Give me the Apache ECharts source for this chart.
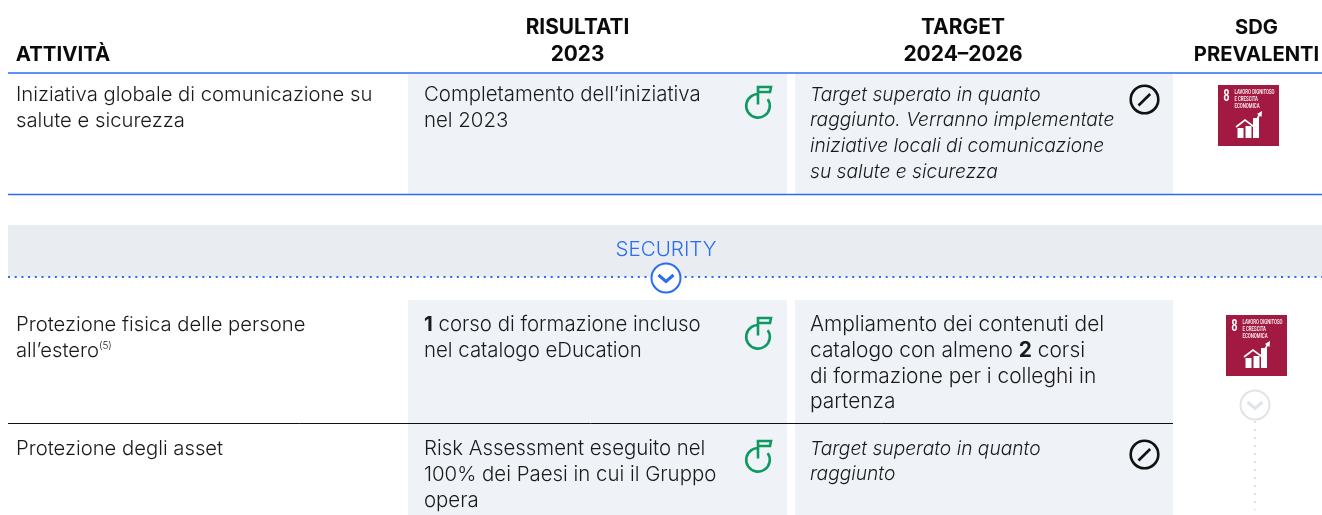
<!DOCTYPE html>
<html>
<head>
<meta charset="utf-8">
<style>
  html, body { margin: 0; padding: 0; background: #fff; }
  #chart { width: 1322px; height: 515px; }
</style>
<script src="https://cdn.jsdelivr.net/npm/echarts@6/dist/echarts.min.js"></script>
</head>
<body>
<div id="chart"></div>
<script>
var headers = [['ATTIVITÀ'], ['RISULTATI', '2023'], ['TARGET', '2024–2026'], ['SDG', 'PREVALENTI']];
var sectionTitle = 'SECURITY';
var activities = [
  ['Iniziativa globale di comunicazione su', 'salute e sicurezza'],
  ['Protezione fisica delle persone', 'all’estero{sup|(5)}'],
  ['Protezione degli asset']
];
var results = [
  ['Completamento dell’iniziativa', 'nel 2023'],
  ['{b|1} corso di formazione incluso', 'nel catalogo eDucation'],
  ['Risk Assessment eseguito nel', '100% dei Paesi in cui il Gruppo', 'opera']
];
var targets = [
  ['Target superato in quanto', 'raggiunto. Verranno implementate', 'iniziative locali di comunicazione', 'su salute e sicurezza'],
  ['Ampliamento dei contenuti del', 'catalogo con almeno {b|2} corsi', 'di formazione per i colleghi in', 'partenza'],
  ['Target superato in quanto', 'raggiunto']
];
var targetItalic = [true, false, true];
var targetStopIcon = [true, false, true];
var sdgNumber = '8';
var sdgLabel = ['LAVORO DIGNITOSO', 'E CRESCITA', 'ECONOMICA'];

var FONT = 'Inter';
var INK = '#1a1a1a';
var BLUE = '#2a6df4';
var CELL = '#eff2f7';
var BAND = '#e9edf1';
var GREEN = '#0f9960';
var FADED = '#dfe4e8';
var LINE_H = 25.7;
var BODY_SIZE = 20.4;
var TARGET_SIZE = 20.9;
var ITALIC_SIZE = 19.2;

var myChart = echarts.init(document.getElementById('chart'), null, { renderer: 'canvas' });
var els = [];

function rect(x, y, w, h, fill) {
  els.push({ type: 'rect', shape: { x: x, y: y, width: w, height: h }, style: { fill: fill }, silent: true });
}
function hline(x1, x2, y, color, width, dash) {
  els.push({
    type: 'line', shape: { x1: x1, y1: y, x2: x2, y2: y },
    style: { stroke: color, lineWidth: width, lineDash: dash || null }, silent: true
  });
}
function label(text, x, y, opt) {
  opt = opt || {};
  var size = opt.size || BODY_SIZE;
  els.push({
    type: 'text', x: x, y: y, scaleX: opt.scaleX || 1, silent: true,
    style: {
      text: text,
      fill: opt.color || INK,
      fontFamily: opt.family || FONT,
      fontSize: size,
      fontWeight: opt.weight || 300,
      fontStyle: opt.italic ? 'italic' : 'normal',
      align: opt.align || 'left',
      verticalAlign: 'middle',
      rich: {
        b: { fontFamily: FONT, fontSize: size, fontWeight: 700, color: INK },
        sup: { fontFamily: FONT, fontSize: 10, fontWeight: 300, verticalAlign: 'top', padding: [0, 0, 8, 0], color: INK }
      }
    }
  });
}
function block(lines, x, y, opt) {
  lines.forEach(function (t, i) { label(t, x, y + i * LINE_H, opt); });
}

function flagIcon(dy) {
  var st = { fill: 'none', stroke: GREEN, lineWidth: 2.6 };
  els.push({ type: 'arc', shape: { cx: 758, cy: 105.8 + dy, r: 11.8, startAngle: -0.6, endAngle: -1.6, clockwise: true }, style: st, silent: true });
  els.push({
    type: 'polyline',
    shape: { points: [[758, 104.5 + dy], [758, 87 + dy], [771, 87 + dy], [770, 92 + dy], [758, 92 + dy]] },
    style: st, silent: true
  });
}
function stopIcon(dy) {
  var st = { fill: 'none', stroke: '#111', lineWidth: 2.6 };
  els.push({ type: 'circle', shape: { cx: 1144.5, cy: 99.5 + dy, r: 13.8 }, style: st, silent: true });
  els.push({ type: 'line', shape: { x1: 1138.5, y1: 105.5 + dy, x2: 1150.2, y2: 94 + dy }, style: st, silent: true });
}
function chevronCircle(cx, cy, color, r) {
  els.push({ type: 'circle', shape: { cx: cx, cy: cy, r: r }, style: { fill: '#fff', stroke: color, lineWidth: 2 }, silent: true });
  els.push({
    type: 'polyline',
    shape: { points: [[cx - 7.5, cy - 3], [cx, cy + 3.5], [cx + 7.5, cy - 3]] },
    style: { fill: 'none', stroke: color, lineWidth: 3 }, silent: true
  });
}
function sdgIcon(x, y) {
  rect(x, y, 61, 61, '#a21942');
  label(sdgNumber, x + 5.5, y + 11.5, { size: 17, weight: 700, color: '#fff', family: 'Liberation Sans', scaleX: 0.62 });
  sdgLabel.forEach(function (t, i) {
    label(t, x + 16.5, y + 6.8 + i * 7.2, { size: 7, weight: 500, color: '#fff', family: 'Roboto', scaleX: 0.62 });
  });
  [[19.5, 43, 6, 10], [27.5, 41, 6, 12], [35, 33, 6, 20]].forEach(function (b) {
    rect(x + b[0], y + b[1], b[2], b[3], '#fff');
  });
  els.push({
    type: 'polyline',
    shape: { points: [[x + 18, y + 42], [x + 27, y + 35], [x + 35, y + 41], [x + 42, y + 29]] },
    style: { fill: 'none', stroke: '#fff', lineWidth: 1.6 }, silent: true
  });
  els.push({
    type: 'polygon',
    shape: { points: [[x + 44, y + 26], [x + 43.5, y + 32], [x + 39, y + 29]] },
    style: { fill: '#fff' }, silent: true
  });
}

// fondi celle
rect(408, 74, 379, 120, CELL);
rect(795, 74, 378, 120, CELL);
rect(408, 300, 379, 215, CELL);
rect(795, 300, 378, 215, CELL);
rect(8, 225, 1314, 52, BAND);

// linee
hline(8, 1322, 73, BLUE, 1.5);
hline(8, 1322, 194.5, BLUE, 1.3);
hline(8, 1173, 423.5, '#111', 1);
hline(8, 1322, 277, BLUE, 2, [2, 4.7]);

// intestazioni
var headAt = [63, 577.5, 963, 1256.5];
var headSize = [20.4, 20.8, 21, 20.2];
headers.forEach(function (h, c) {
  h.forEach(function (t, i) {
    var y = 55 - (h.length - 1 - i) * 27;
    label(t, headAt[c], y, { size: headSize[c], weight: 700, color: '#0b0b0b', align: 'center' });
  });
});

// righe
var rowY = [95, 325, 449];
var iconDy = [0, 231, 354];
var stopDy = [0, 0, 355];
rowY.forEach(function (y, r) {
  block(activities[r], 16, y, { size: 20.25 });
  block(results[r], 424, y);
  block(targets[r], 810, y, { italic: targetItalic[r], size: targetItalic[r] ? ITALIC_SIZE : TARGET_SIZE });
  flagIcon(iconDy[r]);
  if (targetStopIcon[r]) stopIcon(stopDy[r]);
});

label(sectionTitle, 666, 250, { size: 20.6, color: BLUE, align: 'center' });
chevronCircle(666, 278, BLUE, 14.5);

// colonna SDG
sdgIcon(1218, 85);
sdgIcon(1226, 315);
chevronCircle(1255, 405, FADED, 14.5);
els.push({
  type: 'line', shape: { x1: 1255, y1: 421, x2: 1255, y2: 510 },
  style: { stroke: FADED, lineWidth: 2.2, lineDash: [2, 6] }, silent: true
});

myChart.setOption({ animation: false, backgroundColor: '#fff', graphic: { elements: els } });
</script>
</body>
</html>
